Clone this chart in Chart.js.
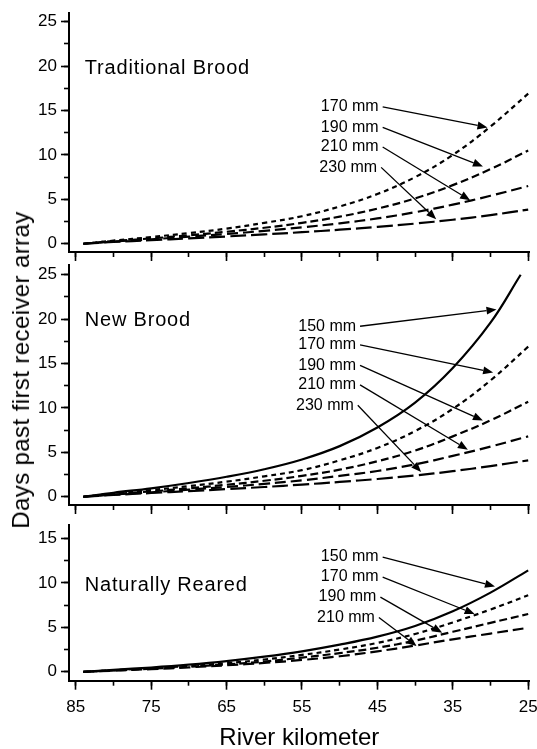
<!DOCTYPE html>
<html>
<head>
<meta charset="utf-8">
<script src="https://cdn.jsdelivr.net/npm/chart.js@4.4.1/dist/chart.umd.min.js"></script>
<style>
    html, body { margin: 0; padding: 0; background: #fff; overflow: hidden; }
    #wrap { position: relative; width: 537px; height: 749px; }
    #wrap canvas { position: absolute; left: 0; top: 0; }
    #ytitle {
        position: absolute; left: 21px; top: 370px;
        transform: translate(-50%, -50%) rotate(-90deg);
        font: 24px "Liberation Sans", Arial, sans-serif;
        letter-spacing: 0.4px;
        white-space: nowrap; color: #000;
    }
</style>
</head>
<body>
<div id="wrap">
    <canvas id="panel-traditional" width="537" height="749"></canvas>
    <canvas id="panel-new" width="537" height="749"></canvas>
    <canvas id="panel-natural" width="537" height="749"></canvas>
    <div id="ytitle">Days past first receiver array</div>
</div>
<script>
(function() {
    'use strict';

    // river kilometer of each reading (the last 150 mm point of New Brood stops at 26)
    const km = [84, 80, 75, 70, 65, 60, 55, 50, 45, 40, 35, 30, 25];
    const kmNew150 = [84, 80, 75, 70, 65, 60, 55, 50, 45, 40, 35, 30, 26];

    const kmMajorTicks = [85, 75, 65, 55, 45, 35, 25];
    const kmMinorTicks = [85, 80, 75, 70, 65, 60, 55, 50, 45, 40, 35, 30, 25];
    const daysTicks25 = [0, 5, 10, 15, 20, 25];
    const daysMinor25 = [0, 2.5, 5, 7.5, 10, 12.5, 15, 17.5, 20, 22.5, 25];
    const daysTicks15 = [0, 5, 10, 15];
    const daysMinor15 = [0, 2.5, 5, 7.5, 10, 12.5, 15];

    // Traditional Brood
    const trad170 = [0, 0.35, 0.75, 1.2, 1.7, 2.35, 3.1, 4.2, 5.6, 7.5, 10.0, 13.2, 16.9];
    const trad190 = [0, 0.3, 0.6, 0.95, 1.35, 1.8, 2.35, 3.05, 3.95, 5.1, 6.6, 8.4, 10.5];
    const trad210 = [0, 0.25, 0.5, 0.8, 1.1, 1.45, 1.85, 2.3, 2.85, 3.55, 4.4, 5.4, 6.5];
    const trad230 = [0, 0.2, 0.4, 0.6, 0.82, 1.05, 1.3, 1.58, 1.9, 2.27, 2.7, 3.22, 3.85];

    // New Brood
    const new150 = [0, 0.45, 0.95, 1.55, 2.25, 3.1, 4.2, 5.7, 7.8, 10.6, 14.5, 19.6, 25.0];
    const new170 = [0, 0.35, 0.75, 1.2, 1.7, 2.3, 3.0, 4.1, 5.5, 7.4, 9.9, 13.1, 16.9];
    const new190 = [0, 0.3, 0.6, 0.95, 1.35, 1.8, 2.35, 3.05, 4.0, 5.2, 6.8, 8.6, 10.7];
    const new210 = [0, 0.25, 0.5, 0.8, 1.1, 1.45, 1.85, 2.35, 2.9, 3.65, 4.6, 5.65, 6.8];
    const new230 = [0, 0.2, 0.42, 0.63, 0.86, 1.1, 1.37, 1.67, 2.0, 2.4, 2.88, 3.45, 4.1];

    // Naturally Reared
    const nat150 = [0, 0.22, 0.48, 0.8, 1.2, 1.7, 2.3, 3.05, 3.95, 5.15, 6.8, 8.9, 11.4];
    const nat170 = [0, 0.18, 0.4, 0.65, 0.97, 1.38, 1.9, 2.5, 3.25, 4.25, 5.55, 7.0, 8.6];
    const nat190 = [0, 0.15, 0.35, 0.57, 0.83, 1.15, 1.6, 2.1, 2.7, 3.5, 4.5, 5.5, 6.5];
    const nat210 = [0, 0.13, 0.3, 0.5, 0.73, 1.0, 1.33, 1.75, 2.3, 2.95, 3.65, 4.3, 4.95];

    // labelled arrows: [start km, start days] -> [tip km, tip days]
    const tradLabels = ['170 mm', '190 mm', '210 mm', '230 mm'];
    const tradFromKm = [44.3, 44.3, 44.3, 44.5];
    const tradFromDays = [15.4, 13.1, 10.9, 8.6];
    const tradToKm = [30.4, 31.0, 32.7, 37.2];
    const tradToDays = [13.1, 8.7, 4.9, 2.75];

    const newLabels = ['150 mm', '170 mm', '190 mm', '210 mm', '230 mm'];
    const newFromKm = [47.3, 47.3, 47.3, 47.3, 47.6];
    const newFromDays = [19.2, 17.1, 14.8, 12.6, 10.3];
    const newToKm = [29.2, 29.65, 31.0, 33.0, 39.2];
    const newToDays = [21.1, 14.0, 8.6, 5.3, 2.8];

    const natLabels = ['150 mm', '170 mm', '190 mm', '210 mm'];
    const natFromKm = [44.3, 44.3, 44.6, 44.8];
    const natFromDays = [12.9, 10.65, 8.4, 6.1];
    const natToKm = [29.4, 32.1, 36.4, 39.8];
    const natToDays = [9.6, 6.5, 4.4, 2.9];

    const FONT = '"Liberation Sans", Arial, Helvetica, sans-serif';
    Chart.defaults.font.family = FONT;
    Chart.defaults.color = '#000';

    const dashes = {
        150: [],
        170: [5, 4],
        190: [8, 4],
        210: [11, 5],
        230: [16, 5]
    };

    function series(size, xs, ys) {
        return {
            label: size + ' mm',
            data: xs.map((k, i) => ({ x: k, y: ys[i] })),
            borderColor: '#000',
            borderWidth: 2.2,
            borderDash: dashes[size],
            pointRadius: 0,
            fill: false,
            tension: 0.4
        };
    }

    const panelNotes = {
        id: 'panelNotes',
        afterDatasetsDraw(chart, args, o) {
            const ctx = chart.ctx;
            const sx = chart.scales.x;
            const sy = chart.scales.y;
            ctx.save();
            ctx.fillStyle = '#000';
            ctx.strokeStyle = '#000';

            ctx.font = '20px ' + FONT;
            ctx.letterSpacing = '0.8px';
            ctx.textAlign = 'left';
            ctx.textBaseline = 'middle';
            ctx.fillText(o.title, sx.getPixelForValue(o.titleKm), sy.getPixelForValue(o.titleDays));

            ctx.letterSpacing = '0px';
            ctx.font = '16px ' + FONT;
            ctx.textAlign = 'right';
            o.labels.forEach((lab, i) => {
                const x0 = sx.getPixelForValue(o.fromKm[i]);
                const y0 = sy.getPixelForValue(o.fromDays[i]);
                const x1 = sx.getPixelForValue(o.toKm[i]);
                const y1 = sy.getPixelForValue(o.toDays[i]);
                ctx.fillText(lab, x0 - 4, y0);

                const ang = Math.atan2(y1 - y0, x1 - x0);
                const hl = 10, hw = 4;
                const bx = x1 - hl * Math.cos(ang);
                const by = y1 - hl * Math.sin(ang);
                ctx.lineWidth = 1.3;
                ctx.beginPath();
                ctx.moveTo(x0, y0);
                ctx.lineTo(bx, by);
                ctx.stroke();
                ctx.beginPath();
                ctx.moveTo(x1, y1);
                ctx.lineTo(bx - hw * Math.sin(ang), by + hw * Math.cos(ang));
                ctx.lineTo(bx + hw * Math.sin(ang), by - hw * Math.cos(ang));
                ctx.closePath();
                ctx.fill();
            });
            ctx.restore();
        }
    };

    function makePanel(id, cfg) {
        const ctx = document.getElementById(id);
        if (!ctx) return;

        const tickFont = { size: 17, family: FONT };

        new Chart(ctx, {
            type: 'line',
            data: { datasets: cfg.datasets },
            options: {
                responsive: false,
                animation: false,
                events: [],
                layout: {
                    padding: { top: cfg.top, bottom: cfg.bottom, left: 0, right: 7.3 }
                },
                plugins: {
                    legend: { display: false },
                    tooltip: { enabled: false },
                    panelNotes: cfg.notes
                },
                scales: {
                    x: {
                        type: 'linear',
                        position: 'bottom',
                        reverse: true,
                        min: 24.8,
                        max: 85.9,
                        weight: 1,
                        afterBuildTicks: s => { s.ticks = kmMajorTicks.map(v => ({ value: v })); },
                        afterFit: s => { s.height = cfg.xHeight; s.paddingLeft = 0; s.paddingRight = 0; },
                        border: { display: true, color: '#000', width: 2 },
                        grid: { drawOnChartArea: false, drawTicks: true, tickLength: 9, tickWidth: 1.6, tickColor: '#000' },
                        ticks: { display: cfg.showX, autoSkip: false, maxRotation: 0, padding: 7, color: '#000', font: tickFont },
                        title: {
                            display: cfg.showX,
                            text: 'River kilometer',
                            color: '#000',
                            padding: 0,
                            font: { size: 24, family: FONT, lineHeight: 0.9 }
                        }
                    },
                    xMinor: {
                        type: 'linear',
                        axis: 'x',
                        position: 'bottom',
                        reverse: true,
                        min: 24.8,
                        max: 85.9,
                        weight: 0,
                        afterBuildTicks: s => { s.ticks = kmMinorTicks.map(v => ({ value: v })); },
                        afterFit: s => { s.height = 0; s.paddingLeft = 0; s.paddingRight = 0; },
                        border: { display: false },
                        grid: { drawOnChartArea: false, drawTicks: true, tickLength: 5, tickWidth: 1.6, tickColor: '#000' },
                        ticks: { display: false }
                    },
                    y: {
                        type: 'linear',
                        position: 'left',
                        min: cfg.yMin,
                        max: cfg.yMax,
                        weight: 1,
                        afterBuildTicks: s => { s.ticks = cfg.yTicks.map(v => ({ value: v })); },
                        afterFit: s => { s.width = 69; s.paddingTop = 0; s.paddingBottom = 0; },
                        border: { display: true, color: '#000', width: 2 },
                        grid: { drawOnChartArea: false, drawTicks: true, tickLength: 8, tickWidth: 1.6, tickColor: '#000' },
                        ticks: { autoSkip: false, padding: 4, color: '#000', font: tickFont }
                    },
                    yMinor: {
                        type: 'linear',
                        axis: 'y',
                        position: 'left',
                        min: cfg.yMin,
                        max: cfg.yMax,
                        weight: 0,
                        afterBuildTicks: s => { s.ticks = cfg.yMinor.map(v => ({ value: v })); },
                        afterFit: s => { s.width = 0; s.paddingTop = 0; s.paddingBottom = 0; },
                        border: { display: false },
                        grid: { drawOnChartArea: false, drawTicks: true, tickLength: 5, tickWidth: 1.6, tickColor: '#000' },
                        ticks: { display: false }
                    }
                }
            },
            plugins: [panelNotes]
        });
    }

    makePanel('panel-traditional', {
        top: 13, bottom: 749 - 252 - 10, xHeight: 10, showX: false,
        yMin: -0.93, yMax: 25.98, yTicks: daysTicks25, yMinor: daysMinor25,
        datasets: [
            series(170, km, trad170),
            series(190, km, trad190),
            series(210, km, trad210),
            series(230, km, trad230)
        ],
        notes: {
            title: 'Traditional Brood', titleKm: 83.8, titleDays: 19.7,
            labels: tradLabels, fromKm: tradFromKm, fromDays: tradFromDays, toKm: tradToKm, toDays: tradToDays
        }
    });

    makePanel('panel-new', {
        top: 265, bottom: 749 - 505 - 10, xHeight: 10, showX: false,
        yMin: -0.93, yMax: 26.1, yTicks: daysTicks25, yMinor: daysMinor25,
        datasets: [
            series(150, kmNew150, new150),
            series(170, km, new170),
            series(190, km, new190),
            series(210, km, new210),
            series(230, km, new230)
        ],
        notes: {
            title: 'New Brood', titleKm: 83.8, titleDays: 19.9,
            labels: newLabels, fromKm: newFromKm, fromDays: newFromDays, toKm: newToKm, toDays: newToDays
        }
    });

    makePanel('panel-natural', {
        top: 525, bottom: 0, xHeight: 749 - 680.7, showX: true,
        yMin: -1.0, yMax: 16.5, yTicks: daysTicks15, yMinor: daysMinor15,
        datasets: [
            series(150, km, nat150),
            series(170, km, nat170),
            series(190, km, nat190),
            series(210, km, nat210)
        ],
        notes: {
            title: 'Naturally Reared', titleKm: 83.8, titleDays: 9.75,
            labels: natLabels, fromKm: natFromKm, fromDays: natFromDays, toKm: natToKm, toDays: natToDays
        }
    });
})();
</script>
</body>
</html>
